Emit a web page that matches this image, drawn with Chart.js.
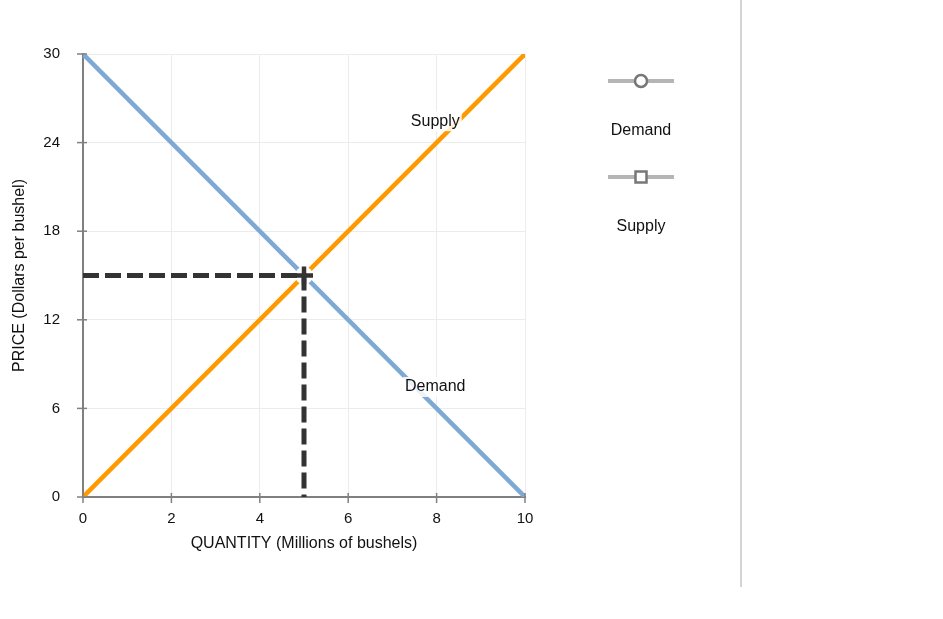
<!DOCTYPE html>
<html>
<head>
<meta charset="utf-8">
<script src="https://cdn.jsdelivr.net/npm/chart.js@4.4.1/dist/chart.umd.min.js"></script>
<style>
  html, body { margin: 0; padding: 0; background: #fff; }
  #wrap { position: relative; width: 943px; height: 619px; }
  #divider { position: absolute; left: 740px; top: 0; width: 2px; height: 587px; background: #d4d4d4; }
</style>
</head>
<body>
<div id="wrap">
  <canvas id="chart" width="943" height="619"></canvas>
  <div id="divider"></div>
</div>
<script>
// datos del gráfico
var quantities = [0, 10];
var demandPrices = [30, 0];
var supplyPrices = [0, 30];
var eqQuantity = 5;
var eqPrice = 15;
var seriesNames = ['Demand', 'Supply'];
// etiquetas sobre las curvas (coordenadas de datos)
var curveLabels = [
    { text: 'Supply', x: 7.97, y: 25.45 },
    { text: 'Demand', x: 7.97, y: 7.45 }
];

var FONT = '"Liberation Sans", Arial, sans-serif';
var BLUE = '#7fa9d5';
var ORANGE = '#ff9900';
var DARK = '#333333';
var AXIS = '#808080';

function toPoints(xs, ys) {
    return xs.map(function (x, i) { return { x: x, y: ys[i] }; });
}

// marcas de graduación que cruzan el eje
var crossTicksPlugin = {
    id: 'crossTicks',
    afterDraw: function (chart) {
        var ctx = chart.ctx;
        var a = chart.chartArea;
        ctx.save();
        ctx.strokeStyle = AXIS;
        ctx.lineWidth = 1.5;
        chart.scales.x.ticks.forEach(function (t) {
            var px = chart.scales.x.getPixelForValue(t.value);
            ctx.beginPath();
            ctx.moveTo(px, a.bottom - 4);
            ctx.lineTo(px, a.bottom + 6);
            ctx.stroke();
        });
        chart.scales.y.ticks.forEach(function (t) {
            var py = chart.scales.y.getPixelForValue(t.value);
            ctx.beginPath();
            ctx.moveTo(a.left - 6, py);
            ctx.lineTo(a.left + 4, py);
            ctx.stroke();
        });
        ctx.restore();
    }
};

// etiquetas con fondo blanco
var curveLabelPlugin = {
    id: 'curveLabels',
    afterDatasetsDraw: function (chart) {
        var ctx = chart.ctx;
        var xs = chart.scales.x, ys = chart.scales.y;
        ctx.save();
        ctx.font = '16px ' + FONT;
        ctx.textAlign = 'center';
        ctx.textBaseline = 'middle';
        curveLabels.forEach(function (l) {
            var px = xs.getPixelForValue(l.x);
            var py = ys.getPixelForValue(l.y);
            var w = ctx.measureText(l.text).width;
            ctx.fillStyle = 'rgba(255,255,255,0.85)';
            ctx.fillRect(px - w / 2 - 2, py - 10, w + 4, 20);
            ctx.fillStyle = '#111';
            ctx.fillText(l.text, px, py);
        });
        ctx.restore();
    }
};

// leyenda vertical a la derecha
var sideLegendPlugin = {
    id: 'sideLegend',
    afterDraw: function (chart) {
        var ctx = chart.ctx;
        var cx = 641;
        ctx.save();
        seriesNames.forEach(function (name, i) {
            var ly = 81 + i * 96;
            ctx.strokeStyle = '#b5b5b5';
            ctx.lineWidth = 4;
            ctx.beginPath();
            ctx.moveTo(608, ly);
            ctx.lineTo(674, ly);
            ctx.stroke();
            ctx.fillStyle = '#fff';
            ctx.strokeStyle = '#777';
            ctx.lineWidth = 2.5;
            ctx.beginPath();
            if (i === 0) {
                ctx.arc(cx, ly, 6, 0, Math.PI * 2);
            } else {
                ctx.rect(cx - 5.5, ly - 5.5, 11, 11);
            }
            ctx.fill();
            ctx.stroke();
            ctx.fillStyle = '#111';
            ctx.font = '16px ' + FONT;
            ctx.textAlign = 'center';
            ctx.textBaseline = 'middle';
            ctx.fillText(name, cx, ly + 49.5);
        });
        ctx.restore();
    }
};

new Chart(document.getElementById('chart').getContext('2d'), {
    type: 'scatter',
    data: {
        datasets: [
            {
                label: 'eqCross',
                data: [{ x: eqQuantity, y: eqPrice }],
                showLine: false,
                pointStyle: 'cross',
                radius: 9,
                borderColor: DARK,
                borderWidth: 4.5,
                order: 0
            },
            {
                label: 'eqDash',
                data: [{ x: 0, y: eqPrice }, { x: eqQuantity, y: eqPrice }, { x: eqQuantity, y: 0 }],
                showLine: true,
                borderColor: DARK,
                borderWidth: 5,
                borderDash: [16, 6],
                pointRadius: 0,
                order: 1
            },
            {
                label: 'eqClear',
                data: [{ x: eqQuantity, y: eqPrice }],
                showLine: false,
                pointStyle: 'circle',
                radius: 9,
                backgroundColor: '#fff',
                borderWidth: 0,
                order: 2
            },
            {
                label: seriesNames[0],
                data: toPoints(quantities, demandPrices),
                showLine: true,
                borderColor: BLUE,
                borderWidth: 4.5,
                pointRadius: 0,
                order: 3
            },
            {
                label: seriesNames[1],
                data: toPoints(quantities, supplyPrices),
                showLine: true,
                borderColor: ORANGE,
                borderWidth: 4.5,
                pointRadius: 0,
                order: 4
            }
        ]
    },
    options: {
        responsive: false,
        animation: false,
        events: [],
        layout: { padding: { left: 0, top: 54, right: 418, bottom: 62 } },
        plugins: {
            legend: { display: false },
            tooltip: { enabled: false }
        },
        scales: {
            x: {
                type: 'linear',
                min: 0,
                max: 10,
                afterFit: function (s) { s.height = 60; },
                ticks: { stepSize: 2, color: '#111', padding: 8, font: { family: FONT, size: 15 } },
                grid: { color: '#ececec', tickColor: 'rgba(0,0,0,0)', tickLength: 5 },
                border: { color: AXIS, width: 2 },
                title: {
                    display: true,
                    text: 'QUANTITY (Millions of bushels)',
                    color: '#111',
                    font: { family: FONT, size: 16 },
                    padding: { top: 4, bottom: 4 }
                }
            },
            y: {
                type: 'linear',
                min: 0,
                max: 30,
                afterFit: function (s) { s.width = 83; },
                ticks: { stepSize: 6, color: '#111', padding: 18, font: { family: FONT, size: 15 } },
                grid: { color: '#ececec', tickColor: 'rgba(0,0,0,0)', tickLength: 5 },
                border: { color: AXIS, width: 2 },
                title: {
                    display: true,
                    text: 'PRICE (Dollars per bushel)',
                    color: '#111',
                    font: { family: FONT, size: 16 },
                    padding: { top: 10, bottom: 10 }
                }
            }
        }
    },
    plugins: [curveLabelPlugin, sideLegendPlugin, crossTicksPlugin]
});
</script>
</body>
</html>
